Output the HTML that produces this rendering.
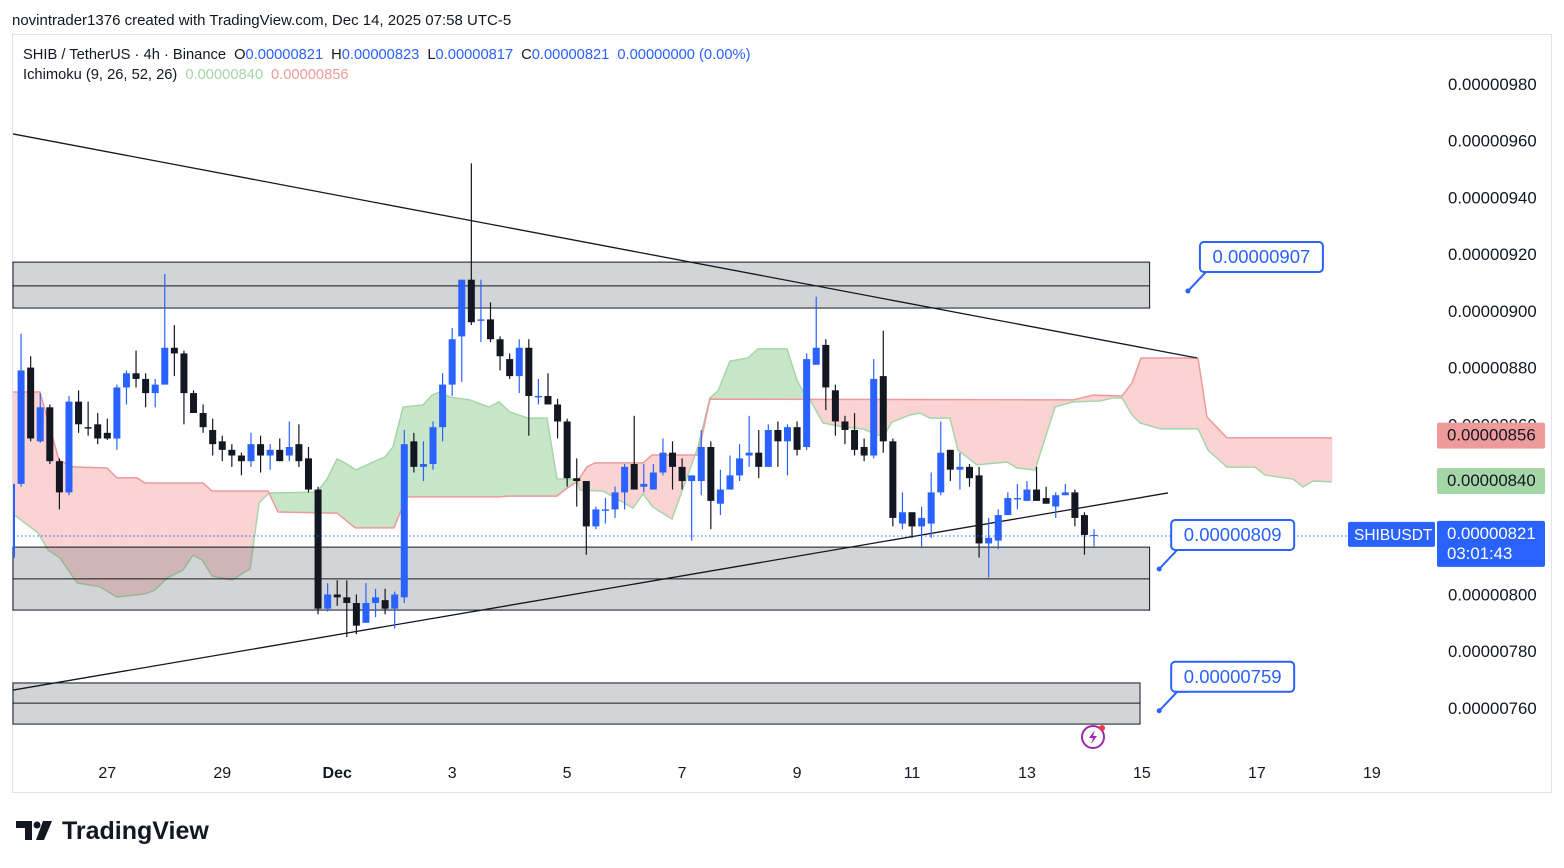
<!DOCTYPE html>
<html><head><meta charset="utf-8"><style>
html,body{margin:0;padding:0;background:#fff;width:1564px;height:868px;overflow:hidden;font-family:"Liberation Sans",sans-serif;}
svg{display:block}
</style></head><body>
<svg id="chart" width="1564" height="868" xmlns="http://www.w3.org/2000/svg" font-family="Liberation Sans, sans-serif">
<text x="12" y="25" font-size="15" fill="#131722">novintrader1376 created with TradingView.com, Dec 14, 2025 07:58 UTC-5</text>
<rect x="12.5" y="34.5" width="1539" height="758" fill="#fff" stroke="#e0e3eb"/>
<defs><clipPath id="pane"><rect x="13" y="35" width="1424" height="720"/></clipPath></defs>
<g id="cloud" clip-path="url(#pane)"></g>
<g id="zones"></g>
<g id="trend" clip-path="url(#pane)"></g>
<g id="candles" clip-path="url(#pane)"></g>
<line x1="13" y1="536" x2="1437" y2="536" stroke="#2962ff" stroke-width="1" stroke-dasharray="1.5,2.5"/>
<g id="yaxis"></g>
<g id="xaxis"></g>
<g id="callouts"></g>
<text x="23" y="59" font-size="14.7" fill="#131722">SHIB / TetherUS · 4h · Binance <tspan dx="4">O</tspan><tspan fill="#2962ff">0.00000821</tspan><tspan dx="8">H</tspan><tspan fill="#2962ff">0.00000823</tspan><tspan dx="8">L</tspan><tspan fill="#2962ff">0.00000817</tspan><tspan dx="8">C</tspan><tspan fill="#2962ff">0.00000821</tspan><tspan dx="8" fill="#2962ff">0.00000000 (0.00%)</tspan></text>
<text x="23" y="79" font-size="14.7" fill="#131722">Ichimoku (9, 26, 52, 26) <tspan dx="4" fill="#a5d6a7">0.00000840</tspan><tspan dx="8" fill="#ef9a9a">0.00000856</tspan></text>
<g><circle cx="1093" cy="737" r="11" fill="#fff" stroke="#9c27b0" stroke-width="2"/><path d="M1095 730 L1089 738 L1093 738 L1091 744 L1097 736 L1093 736 Z" fill="#9c27b0"/><circle cx="1102" cy="728" r="3" fill="#f23645"/></g>
<g><path d="M16 821 H32 V840 H25 V828 H16 Z" fill="#131722"/><circle cx="37" cy="825" r="3.5" fill="#131722"/><path d="M43 821 H52 L44 840 H36 Z" fill="#131722"/><text x="62" y="839" font-size="25" font-weight="bold" fill="#131722">TradingView</text></g>
</svg>
<script>
// ---- candle data (units of 1e-8 USDT) ----
const opens=[8.13,8.39,8.80,8.54,8.66,8.47,8.36,8.68,8.59,8.60,8.57,8.55,8.73,8.78,8.76,8.71,8.74,8.87,8.85,8.71,8.64,8.58,8.54,8.51,8.49,8.47,8.53,8.49,8.51,8.49,8.53,8.48,8.37,7.95,8.00,7.99,7.97,7.90,7.97,7.98,7.95,7.99,8.54,8.45,8.46,8.59,8.74,8.91,9.11,8.965,8.97,8.90,8.83,8.77,8.87,8.695,8.70,8.67,8.61,8.41,8.40,8.24,8.295,8.30,8.36,8.46,8.38,8.37,8.43,8.50,8.45,8.40,8.40,8.52,8.32,8.37,8.42,8.49,8.50,8.45,8.58,8.54,8.59,8.52,8.81,8.88,8.72,8.61,8.58,8.52,8.49,8.77,8.54,8.25,8.29,8.24,8.25,8.36,8.51,8.44,8.45,8.42,8.18,8.19,8.28,8.335,8.33,8.37,8.34,8.31,8.35,8.36,8.28,8.21];
const highs=[8.39,8.92,8.84,8.71,8.67,8.48,8.70,8.72,8.68,8.64,8.62,8.74,8.79,8.86,8.78,8.76,9.13,8.95,8.86,8.72,8.67,8.62,8.56,8.53,8.50,8.57,8.56,8.53,8.55,8.61,8.60,8.52,8.38,8.04,8.05,8.05,8.00,8.04,8.02,8.02,8.01,8.58,8.57,8.54,8.61,8.78,8.94,9.11,9.52,9.11,9.03,8.91,8.85,8.90,8.90,8.76,8.78,8.69,8.62,8.48,8.40,8.31,8.34,8.38,8.46,8.63,8.46,8.46,8.55,8.54,8.48,8.42,8.58,8.54,8.44,8.49,8.53,8.63,8.58,8.60,8.61,8.60,8.61,8.85,9.05,8.90,8.74,8.63,8.64,8.55,8.83,8.93,8.55,8.36,8.29,8.31,8.43,8.61,8.51,8.50,8.46,8.45,8.27,8.30,8.36,8.39,8.40,8.45,8.38,8.36,8.39,8.37,8.29,8.23];
const lows=[8.12,8.38,8.54,8.535,8.46,8.30,8.35,8.57,8.56,8.53,8.545,8.51,8.67,8.73,8.66,8.66,8.74,8.77,8.60,8.64,8.57,8.49,8.47,8.45,8.42,8.45,8.43,8.44,8.47,8.47,8.45,8.36,7.93,7.94,7.96,7.85,7.86,7.90,7.92,7.93,7.88,7.97,8.43,8.40,8.44,8.54,8.70,8.75,8.95,8.89,8.89,8.79,8.76,8.71,8.56,8.67,8.67,8.55,8.38,8.31,8.14,8.23,8.25,8.27,8.30,8.37,8.36,8.37,8.42,8.37,8.37,8.19,8.35,8.23,8.28,8.37,8.40,8.45,8.41,8.45,8.45,8.42,8.49,8.51,8.81,8.65,8.56,8.53,8.49,8.47,8.48,8.50,8.24,8.23,8.20,8.17,8.20,8.35,8.40,8.37,8.38,8.13,8.06,8.16,8.28,8.30,8.33,8.33,8.32,8.27,8.35,8.24,8.14,8.17];
const closes=[8.39,8.79,8.55,8.66,8.47,8.36,8.68,8.60,8.585,8.55,8.55,8.73,8.78,8.76,8.71,8.74,8.87,8.85,8.71,8.64,8.59,8.53,8.51,8.49,8.47,8.53,8.49,8.51,8.47,8.52,8.47,8.37,7.95,8.00,7.99,7.97,7.89,7.97,7.99,7.95,8.00,8.53,8.45,8.46,8.59,8.74,8.90,9.11,8.96,8.97,8.90,8.84,8.77,8.87,8.70,8.70,8.67,8.61,8.41,8.40,8.24,8.30,8.30,8.36,8.45,8.37,8.39,8.43,8.50,8.45,8.40,8.42,8.52,8.33,8.37,8.42,8.48,8.50,8.45,8.58,8.54,8.59,8.51,8.83,8.87,8.73,8.61,8.58,8.51,8.49,8.76,8.54,8.27,8.29,8.24,8.27,8.36,8.50,8.44,8.45,8.41,8.18,8.20,8.28,8.34,8.34,8.37,8.33,8.32,8.35,8.36,8.27,8.21,8.21];
// ---- Ichimoku spans (bar index, value) ----
const spanAIdx=[0.16,2.77,3.81,5.06,6.84,9.24,11.01,13.94,14.98,16.23,17.90,18.95,19.89,20.93,23.02,24.90,25.84,26.88,31.89,32.93,33.98,34.81,35.96,37.73,38.99,39.82,40.87,42.95,43.89,44.73,45.77,47.86,49.84,50.89,52.03,53.91,55.90,56.94,58.09,59.03,59.34,61.74,64.87,65.92,66.96,68.94,71.66,72.91,73.75,75.00,76.88,77.92,80.95,81.99,82.83,83.35,84.71,86.80,88.88,90.34,91.18,91.91,93.79,94.83,95.87,97.96,98.79,100.78,103.91,104.96,106.84,108.93,110.81,113.62,114.98,115.92,116.96,117.80,119.89,123.85,124.90,126.88,129.80,130.85,133.77,134.81,135.86,137.84];
const spanAVal=[8.284,8.217,8.157,8.129,8.041,8.027,7.991,8.002,8.016,8.058,8.086,8.139,8.122,8.065,8.051,8.090,8.323,8.358,8.361,8.407,8.478,8.464,8.439,8.467,8.485,8.520,8.661,8.668,8.703,8.714,8.696,8.686,8.661,8.679,8.643,8.622,8.622,8.407,8.407,8.404,8.368,8.365,8.305,8.354,8.308,8.266,8.520,8.693,8.718,8.823,8.834,8.866,8.866,8.756,8.703,8.686,8.605,8.591,8.584,8.562,8.566,8.608,8.633,8.640,8.622,8.622,8.509,8.457,8.467,8.446,8.439,8.661,8.679,8.682,8.693,8.693,8.633,8.605,8.584,8.584,8.509,8.449,8.449,8.421,8.407,8.379,8.400,8.397];
const spanBIdx=[0.16,2.97,4.96,6.42,9.97,11.01,13.10,13.94,19.99,20.93,26.77,27.82,33.98,35.86,39.93,40.55,41.39,50.99,51.72,56.94,57.99,59.03,60.07,60.91,65.92,66.86,71.66,72.91,110.81,112.89,115.92,116.96,117.90,123.85,124.79,126.88,137.84];
const spanBVal=[8.714,8.714,8.474,8.450,8.446,8.411,8.411,8.393,8.393,8.365,8.365,8.291,8.287,8.235,8.235,8.287,8.344,8.344,8.347,8.347,8.375,8.397,8.450,8.464,8.464,8.492,8.492,8.689,8.686,8.703,8.700,8.746,8.834,8.834,8.626,8.552,8.552];
// ---- zones [top, mid, bottom], trendlines ----
const zoneTop=[9.172,8.167,7.688];
const zoneMid=[9.088,8.055,7.617];
const zoneBot=[9.010,7.945,7.543];
const zoneEndIdx=[118.8,118.8,117.8];
const trendStartIdx=[0.16,0.16], trendStartVal=[9.624,7.663];
const trendEndIdx=[123.75,120.72], trendEndVal=[8.834,8.358];
// ---- axis ticks ----
const priceTicks=[9.8,9.6,9.4,9.2,9.0,8.8,8.6,8.4,8.2,8.0,7.8,7.6];
const dateLabels=['27','29','Dec','3','5','7','9','11','13','15','17','19'];
const dateFirstIdx=10, dateStepBars=12;
const calloutVals=[9.07,8.09,7.59];
const calloutIdx=[122.8,119.8,119.8];

const NS='http://www.w3.org/2000/svg';
const X=i=>11.5+i*9.58;
const Y=v=>84+(9.80-v)*283.6;
function mk(tag,attrs,parent){const e=document.createElementNS(NS,tag);for(const k in attrs)e.setAttribute(k,attrs[k]);parent.appendChild(e);return e;}
const fmt=v=>'0.00000'+Math.round(v*100).toString().padStart(3,'0');

// cloud
const cloud=document.getElementById('cloud');
function interp(ix,iv,t){if(t<=ix[0])return iv[0];for(let k=1;k<ix.length;k++){if(t<=ix[k]){const f=(t-ix[k-1])/(ix[k]-ix[k-1]);return iv[k-1]+f*(iv[k]-iv[k-1]);}}return iv[iv.length-1];}
const t0=0.16,t1=137.84,steps=550;
for(let s=0;s<steps;s++){
  const a=t0+(t1-t0)*s/steps,b=t0+(t1-t0)*(s+1)/steps;
  const A0=interp(spanAIdx,spanAVal,a),A1=interp(spanAIdx,spanAVal,b),B0=interp(spanBIdx,spanBVal,a),B1=interp(spanBIdx,spanBVal,b);
  const up=(A0+A1)>(B0+B1);
  const p=mk('polygon',{points:`${X(a)},${Y(A0)} ${X(b)+0.3},${Y(A1)} ${X(b)+0.3},${Y(B1)} ${X(a)},${Y(B0)}`,fill:up?'#c8e6c9':'#fbd3d3'},cloud);
  
  
}
const pA=mk('polyline',{points:spanAIdx.map((t,k)=>X(t)+','+Y(spanAVal[k])).join(' '),fill:'none',stroke:'#a5d6a7','stroke-width':1.5},cloud);


const pB=mk('polyline',{points:spanBIdx.map((t,k)=>X(t)+','+Y(spanBVal[k])).join(' '),fill:'none',stroke:'#ef9a9a','stroke-width':1.5},cloud);



// zones
const zones=document.getElementById('zones');
for(let k=0;k<zoneTop.length;k++){
  const x2=X(zoneEndIdx[k]);
  const r=mk('rect',{x:13,y:Y(zoneTop[k]),width:x2-13,height:Y(zoneBot[k])-Y(zoneTop[k]),fill:'rgba(110,112,120,0.3)',stroke:'#131722','stroke-width':1},zones);
  
  
  const l=mk('line',{x1:13,x2:x2,y1:Y(zoneMid[k]),y2:Y(zoneMid[k]),stroke:'#131722','stroke-width':1},zones);
  
  
}
// trendlines
const trend=document.getElementById('trend');
for(let k=0;k<2;k++){
  const l=mk('line',{x1:X(trendStartIdx[k]),y1:Y(trendStartVal[k]),x2:X(trendEndIdx[k]),y2:Y(trendEndVal[k]),stroke:'#131722','stroke-width':1.3},trend);
  
  
}
// candles
const cg=document.getElementById('candles');
for(let i=0;i<opens.length;i++){
  const up=closes[i]>=opens[i],col=up?'#2962ff':'#131722',x=X(i);
  const g=mk('g',{},cg);
  
  
  mk('line',{x1:x,x2:x,y1:Y(highs[i]),y2:Y(lows[i]),stroke:col,'stroke-width':1.2},g);
  const top=Y(Math.max(opens[i],closes[i])),bot=Y(Math.min(opens[i],closes[i]));
  mk('rect',{x:x-3.5,y:top,width:7,height:Math.max(1,bot-top),fill:col},g);
}
// y axis
const ya=document.getElementById('yaxis');
priceTicks.forEach(v=>{const t=mk('text',{x:1448,y:Y(v)+6,'font-size':16.8,fill:'#131722'},ya);t.textContent=fmt(v);

});
function lab(x,y,w,h,fill,txt,tc,name,fs,pad){const g=mk('g',{},ya);
mk('rect',{x:x,y:y,width:w,height:h,rx:2,fill:fill},g);txt.forEach((s,k)=>{const t=mk('text',{x:x+pad,y:y+18+k*20,'font-size':fs,fill:tc},g);t.textContent=s;});}
lab(1437,Y(8.56)-13,108,26,'#ef9a9a',[fmt(8.56)],'#131722','span-b-price-label',16.8,10);
lab(1437,Y(8.40)-13,108,26,'#a5d6a7',[fmt(8.40)],'#131722','span-a-price-label',16.8,10);
lab(1437,Y(8.21)-14,108,46,'#2962ff',[fmt(8.21),'03:01:43'],'#fff','last-price-label',16.8,10);
lab(1348,Y(8.21)-13,87,25,'#2962ff',['SHIBUSDT'],'#fff','symbol-label',15.5,6);
// x axis
const xa=document.getElementById('xaxis');
dateLabels.forEach((s,k)=>{const t=mk('text',{x:X(dateFirstIdx+k*dateStepBars),y:778,'font-size':16,fill:'#131722','text-anchor':'middle','font-weight':s==='Dec'?'bold':'normal'},xa);t.textContent=s;

});
// callouts
const co=document.getElementById('callouts');
calloutVals.forEach((v,k)=>{
  const px=X(calloutIdx[k]),py=Y(v);
  const g=mk('g',{},co);
  
  
  const bx=px+12,by=py-49;
  mk('path',{d:`M${px} ${py} L${bx+6} ${by+30} L${bx+16} ${by+30}`,fill:'#fff',stroke:'#2962ff','stroke-width':2},g);
  mk('rect',{x:bx,y:by,width:123,height:30,rx:4,fill:'#fff',stroke:'#2962ff','stroke-width':2},g);
  mk('circle',{cx:px,cy:py,r:2.5,fill:'#2962ff'},g);
  const t=mk('text',{x:bx+61.5,y:by+21,'font-size':18.5,fill:'#2962ff','text-anchor':'middle'},g);t.textContent=fmt(v);
});
</script>
</body></html>
